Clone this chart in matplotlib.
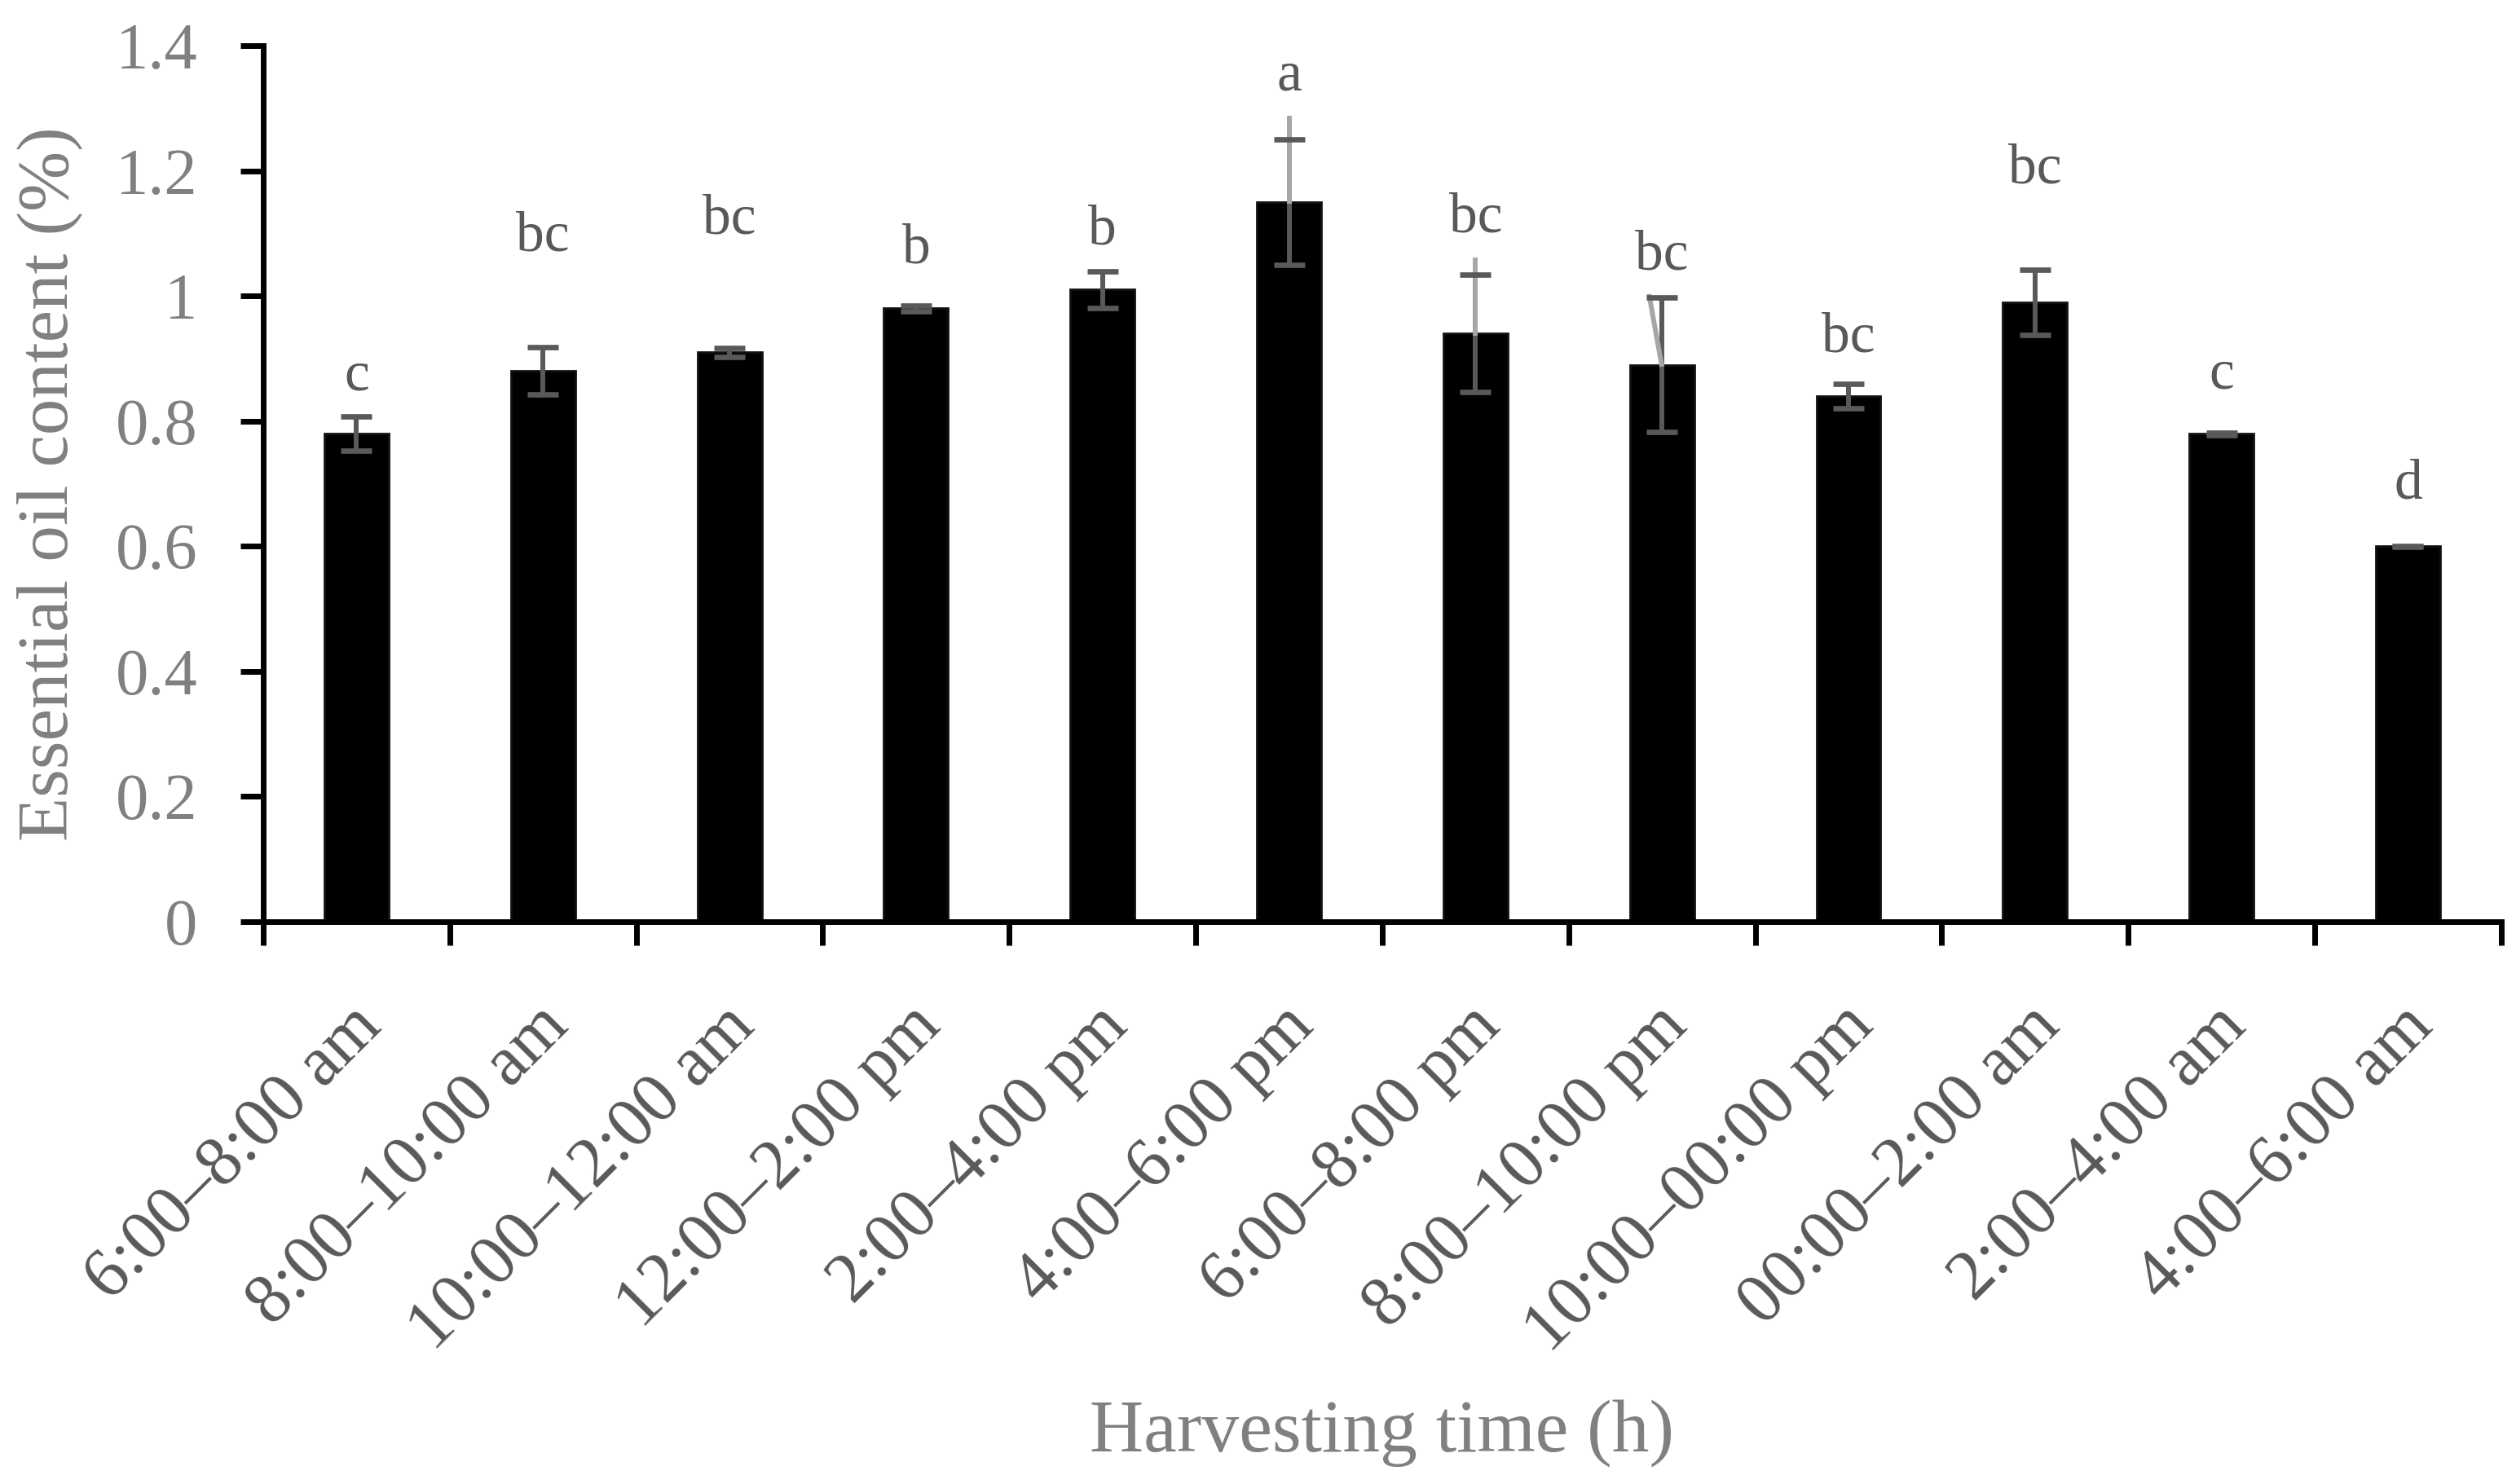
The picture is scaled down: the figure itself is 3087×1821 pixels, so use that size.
import numpy as np
import matplotlib
matplotlib.use("Agg")
import matplotlib.pyplot as plt
from matplotlib.transforms import ScaledTranslation

# data
times = ["6:00–8:00 am", "8:00–10:00 am", "10:00–12:00 am", "12:00–2:00 pm",
         "2:00–4:00 pm", "4:00–6:00 pm", "6:00–8:00 pm", "8:00–10:00 pm",
         "10:00–00:00 pm", "00:00–2:00 am", "2:00–4:00 am", "4:00–6:00 am"]
oil = [0.78, 0.88, 0.91, 0.98, 1.01, 1.15, 0.94, 0.89, 0.84, 0.99, 0.78, 0.60]
sd = [0.027, 0.038, 0.007, 0.004, 0.029, 0.100, 0.094, 0.107, 0.020, 0.052, 0.002, 0.001]
letters = ["c", "bc", "bc", "b", "b", "a", "bc", "bc", "bc", "bc", "c", "d"]
letter_y = [0.850, 1.072, 1.100, 1.053, 1.083, 1.329, 1.103, 1.043, 0.911, 1.181, 0.852, 0.676]
# stray light-grey whisker lines in the original (upper end value)
stray_top = [None, None, None, None, None, 1.288, 1.062, 1.003, None, None, None, None]
stray_lean = [0, 0, 0, 0, 0, 0, 0, -0.07, 0, 0, 0, 0]
yticks = [0, 0.2, 0.4, 0.6, 0.8, 1.0, 1.2, 1.4]
ytick_labels = ["0", "0.2", "0.4", "0.6", "0.8", "1", "1.2", "1.4"]

plt.rcParams["font.family"] = ["Liberation Serif", "DejaVu Serif"]

DARK = "#595959"
MID = "#808080"
LIGHT = "#a6a6a6"

fig = plt.figure(figsize=(30.87, 18.21), dpi=100)
ax = fig.add_axes([0.10463, 0.37891, 0.8895, 0.59034])

x = np.arange(len(times))
ax.bar(x, oil, width=0.345, color="black", edgecolor="#111111", linewidth=2, zorder=2)

# stray grey lines
for i, top in enumerate(stray_top):
    if top is None:
        continue
    ax.plot([x[i], x[i] + stray_lean[i]], [oil[i] - 0.003, top], color=LIGHT,
            lw=4.3, solid_capstyle="butt", zorder=4)

eb = ax.errorbar(x, oil, yerr=sd, fmt="none", ecolor=DARK, elinewidth=4.3,
                 capsize=13.7, capthick=4.8, zorder=3)
for cap in eb[1]:
    cap.set_zorder(5)

for i, lab in enumerate(letters):
    ax.text(x[i], letter_y[i], lab, ha="center", va="baseline",
            fontsize=50, color=DARK)

ax.set_xlim(-0.5, len(times) - 0.5)
ax.set_ylim(0, 1.4)

ax.set_yticks(yticks)
ax.set_yticklabels(ytick_labels)
ax.tick_params(axis="y", length=20, width=5, pad=38, labelsize=58, labelcolor=MID)

ax.set_xticks(x)
ax.set_xticklabels(times)
ax.set_xticks(np.arange(-0.5, len(times)), minor=True)
ax.tick_params(axis="x", which="major", length=0, pad=94, labelsize=62, labelcolor=DARK)
ax.tick_params(axis="x", which="minor", length=21, width=5)
shift = ScaledTranslation(0.33, 0, fig.dpi_scale_trans)
for lbl in ax.get_xticklabels():
    lbl.set_rotation(45)
    lbl.set_ha("right")
    lbl.set_va("baseline")
    lbl.set_rotation_mode("anchor")
    lbl.set_transform(lbl.get_transform() + shift)

for side in ["top", "right"]:
    ax.spines[side].set_visible(False)
for side in ["left", "bottom"]:
    ax.spines[side].set_linewidth(5)

ax.set_xlabel("Harvesting time (h)", fontsize=66, color=MID, va="baseline")
ax.xaxis.set_label_coords(0.5, -0.604)
ax.set_ylabel("Essential oil content (%)", fontsize=64, color=MID, va="baseline")
ax.yaxis.set_label_coords(-0.0878, 0.5)

fig.savefig("out.png", dpi=100)
